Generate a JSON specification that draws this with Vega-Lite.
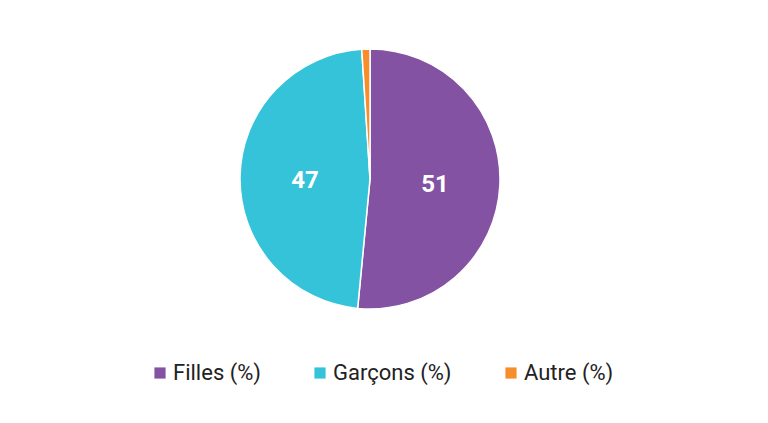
{
  "$schema": "https://vega.github.io/schema/vega-lite/v6.json",
  "width": 740,
  "height": 358,
  "autosize": {"type": "none"},
  "padding": {"left": 0, "top": 0, "right": 28, "bottom": 65},
  "background": "white",
  "config": {"view": {"stroke": null}},
  "data": {"values": [
    {"cat": "Filles (%)", "value": 51, "ord": 1},
    {"cat": "Garçons (%)", "value": 47, "ord": 2},
    {"cat": "Autre (%)", "value": 1, "ord": 3}
  ]},
  "encoding": {
    "theta": {"field": "value", "type": "quantitative", "stack": true},
    "order": {"field": "ord", "type": "quantitative"},
    "color": {
      "field": "cat", "type": "nominal",
      "sort": ["Filles (%)", "Garçons (%)", "Autre (%)"],
      "scale": {"domain": ["Filles (%)", "Garçons (%)", "Autre (%)"], "range": ["#8452A3", "#35C3DA", "#F78D2B"]},
      "legend": {
        "title": null,
        "orient": "none",
        "legendX": 149,
        "legendY": 362,
        "direction": "horizontal",
        "symbolType": "square",
        "symbolSize": 125,
        "symbolStrokeWidth": 0,
        "labelFont": "Roboto",
        "labelFontSize": 22,
        "labelColor": "#222222",
        "labelOffset": 2,
        "columnPadding": 48,
        "labelLimit": 300
      }
    }
  },
  "layer": [
    {"mark": {"type": "arc", "outerRadius": 130, "stroke": "white", "strokeWidth": 1.5}},
    {
      "mark": {"type": "text", "radius": 65, "dy": 3, "fill": "white", "font": "Roboto", "fontSize": 24, "fontWeight": "bold", "baseline": "middle", "align": "center"},
      "transform": [{"filter": "datum.value > 5"}],
      "encoding": {
        "text": {"field": "value", "type": "quantitative"},
        "color": {"value": "white"}
      }
    }
  ]
}
